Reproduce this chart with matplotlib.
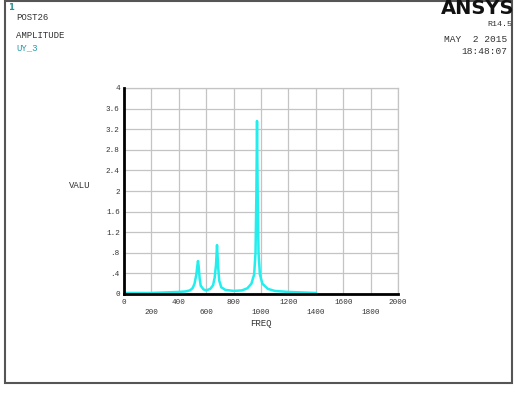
import matplotlib
matplotlib.use("Agg")
import matplotlib.pyplot as plt
from matplotlib.patches import Rectangle

# ---- data ----
freq = [0, 100, 200, 300, 400, 450, 480, 500, 515, 528, 535, 540, 545, 552, 560, 580,
        600, 630, 650, 662, 672, 679, 686, 695, 710, 740, 800, 860, 900, 930, 950,
        960, 966, 971, 976, 982, 992, 1010, 1050, 1100, 1200, 1300, 1400]
amp = [0.02, 0.02, 0.02, 0.03, 0.04, 0.05, 0.07, 0.11, 0.20, 0.38, 0.54, 0.64, 0.54,
       0.30, 0.16, 0.09, 0.07, 0.10, 0.17, 0.32, 0.58, 0.95, 0.58, 0.26, 0.13, 0.08,
       0.06, 0.07, 0.11, 0.20, 0.38, 0.80, 1.90, 3.36, 1.90, 0.80, 0.38, 0.20, 0.10,
       0.06, 0.04, 0.03, 0.02]

xticks = [0, 200, 400, 600, 800, 1000, 1200, 1400, 1600, 1800, 2000]
xticklabels = ["0", "200", "400", "600", "800", "1000", "1200", "1400", "1600", "1800", "2000"]
yticks = [0, 0.4, 0.8, 1.2, 1.6, 2.0, 2.4, 2.8, 3.2, 3.6, 4.0]
yticklabels = ["0", ".4", ".8", "1.2", "1.6", "2", "2.4", "2.8", "3.2", "3.6", "4"]

W, H = 518, 394
fig = plt.figure(figsize=(W / 100, H / 100), dpi=100)
fig.patch.set_facecolor("white")

FONT = "Liberation Mono"
fs = 5.5
TXT = "#333333"

def px(x, y):
    return x / W, 1 - y / H

# outer frame
fig.add_artist(Rectangle(px(5, 383), (512 - 5) / W, (383 - 1) / H, transform=fig.transFigure,
                         fill=False, edgecolor="#555555", linewidth=1.5))

ax = fig.add_axes([124 / W, 1 - 294 / H, (398 - 124) / W, (294 - 88) / H])
ax.plot(freq, amp, color="#22EEEE", linewidth=1.8, zorder=3)
ax.set_xlim(0, 2000)
ax.set_ylim(0, 4)
ax.set_xticks(xticks)
ax.set_yticks(yticks)
ax.set_xticklabels([])
ax.set_yticklabels(yticklabels, fontsize=fs, family=FONT, color=TXT)
ax.tick_params(length=0, pad=3)
ax.grid(True, color="#c4c4c4", linewidth=0.9)
ax.set_axisbelow(True)
for s in ["top", "right"]:
    ax.spines[s].set_color("#c4c4c4")
    ax.spines[s].set_linewidth(0.9)
for s in ["left", "bottom"]:
    ax.spines[s].set_color("black")
    ax.spines[s].set_linewidth(2.0)
    ax.spines[s].set_zorder(4)

# staggered x tick labels
for i, (xv, lab) in enumerate(zip(xticks, xticklabels)):
    yoff = 8 if i % 2 == 0 else 18
    ax.annotate(lab, xy=(xv, 0), xycoords="data", xytext=(0, -yoff), textcoords="offset pixels",
                ha="center", va="center", fontsize=fs, family=FONT, color=TXT)

fig.text(*px(261, 324), "FREQ", ha="center", va="center", fontsize=6.5, family=FONT, color=TXT)
fig.text(*px(80, 185), "VALU", ha="center", va="center", fontsize=6.5, family=FONT, color=TXT)

# header texts
fig.text(*px(8, 7), "1", ha="left", va="center", fontsize=6, family="DejaVu Sans", weight="bold", color="#2a9090")
fig.text(*px(16, 17), "POST26", ha="left", va="center", fontsize=6.5, family=FONT, color=TXT)
fig.text(*px(16, 35), "AMPLITUDE", ha="left", va="center", fontsize=6.5, family=FONT, color=TXT)
fig.text(*px(16, 48), "UY_3", ha="left", va="center", fontsize=6.5, family=FONT, color="#2a9aaa")

fig.text(*px(514, 9), "ANSYS", ha="right", va="center", fontsize=14, family="DejaVu Sans", weight="bold", color="#111111")
fig.text(*px(512, 24), "R14.5", ha="right", va="center", fontsize=6, family=FONT, color=TXT)
fig.text(*px(507, 40), "MAY  2 2015", ha="right", va="center", fontsize=6.8, family=FONT, color=TXT)
fig.text(*px(507, 51), "18:48:07", ha="right", va="center", fontsize=6.8, family=FONT, color=TXT)

fig.savefig("out.png", dpi=100, facecolor="white")
